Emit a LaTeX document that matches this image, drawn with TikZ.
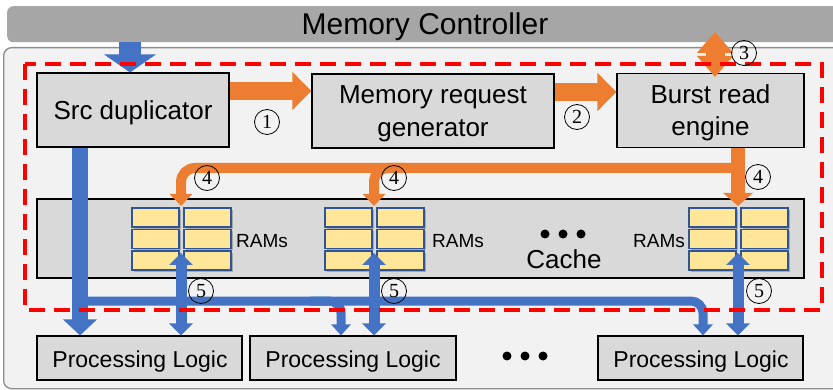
\documentclass[tikz,border=0pt]{standalone}
\usepackage{fontspec}
\setmainfont{Liberation Sans}
\newfontfamily\numfont{Liberation Serif}
\usetikzlibrary{arrows.meta,shadows}
\definecolor{myorange}{HTML}{ED7D31}
\definecolor{myblue}{HTML}{4472C4}
\definecolor{bargray}{HTML}{A6A6A6}
\definecolor{boxgray}{HTML}{D9D9D9}
\definecolor{outergray}{HTML}{F2F2F2}
\definecolor{outeredge}{HTML}{8C8C8C}
\definecolor{ramfill}{HTML}{FFE699}
\definecolor{ramedge}{HTML}{2F5597}
\definecolor{dashred}{HTML}{FF0000}
\begin{document}
\begin{tikzpicture}[x=1pt,y=-1pt,
  blockbox/.style={draw=black, line width=1.1pt, fill=boxgray, minimum width=#1,
    minimum height=74pt, inner sep=0pt},
  plbox/.style={draw=black, line width=1.1pt, fill=boxgray, minimum width=205pt,
    minimum height=44pt, inner sep=0pt},
  bigtxt/.style={inner sep=0pt, anchor=base, font=\fontsize{26}{30}\selectfont},
  pltxt/.style={inner sep=0pt, anchor=base, font=\fontsize{23}{26}\selectfont},
  ramtxt/.style={inner sep=0pt, anchor=base, font=\fontsize{19}{22}\selectfont},
  ramcell/.style={draw=ramedge, line width=1.2pt, fill=ramfill, minimum width=47pt,
    minimum height=19pt, inner sep=0pt,
    drop shadow={shadow xshift=2pt, shadow yshift=-2pt, opacity=0.35, fill=black!70}},
  numlabel/.style={circle, draw=black, line width=0.8pt, minimum size=25pt, inner sep=0pt,
    font=\numfont\fontsize{20}{20}\selectfont},
  dotmark/.style={circle, fill=black, minimum size=9pt, inner sep=0pt},
  obig/.style={draw=myorange, line width=18pt, -{Triangle[width=37pt,length=19pt]}},
  odbl/.style={draw=myorange, line width=19pt,
    {Triangle[width=35pt,length=21pt]}-{Triangle[width=35pt,length=21pt]}},
  omain/.style={draw=myorange, line width=14pt, -{Triangle[width=29pt,length=13pt]}},
  othin/.style={draw=myorange, line width=10pt, rounded corners=14pt,
    -{Triangle[width=22pt,length=12pt]}},
  btop/.style={draw=myblue, line width=22pt, -{Triangle[width=51pt,length=18pt]}},
  bsrc/.style={draw=myblue, line width=16pt, -{Triangle[width=33pt,length=16pt]}},
  bthin/.style={draw=myblue, line width=9pt, rounded corners=12pt,
    -{Triangle[width=19pt,length=11pt]}},
  bdbl/.style={draw=myblue, line width=11pt,
    {Triangle[width=23pt,length=12pt]}-{Triangle[width=23pt,length=12pt]}}
]
\useasboundingbox (0,0) rectangle (833,390);

% backgrounds
\node[fill=bargray, rounded corners=6pt, minimum width=848pt, minimum height=36pt,
  inner sep=0pt, anchor=north west] (mc) at (7,6) {};
\node[inner sep=0pt, anchor=base, font=\fontsize{30}{34}\selectfont] (mctext) at (425,35) {Memory Controller};
\node[fill=outergray, draw=outeredge, line width=1.3pt, rounded corners=8pt,
  minimum width=860pt, minimum height=341pt, inner sep=0pt, anchor=north west] (outer) at (3,47) {};

% main blocks
\node[blockbox=192pt] (src) at (133,110) {};
\node[bigtxt] (srctxt) at (133,119.5) {Src duplicator};
\node[blockbox=242pt] (mrg) at (433,111) {};
\node[bigtxt] (mrgtxt1) at (433,104) {Memory request};
\node[bigtxt] (mrgtxt2) at (433,137) {generator};
\node[blockbox=187pt] (bre) at (710.5,110.5) {};
\node[bigtxt] (bretxt1) at (710.5,104) {Burst read};
\node[bigtxt] (bretxt2) at (710.5,136) {engine};
\node[draw=black, line width=1.1pt, fill=boxgray, minimum width=767pt, minimum height=79pt,
  inner sep=0pt] (cache) at (420.5,238.5) {};
\node[bigtxt] (cachetext) at (564,269) {Cache};
\node[dotmark] (cd1) at (545,234) {};
\node[dotmark] (cd2) at (563,234) {};
\node[dotmark] (cd3) at (581,234) {};

\node[plbox] (pl1) at (139.5,358) {};
\node[pltxt] (pl1txt) at (140,367) {Processing Logic};
\node[plbox, minimum width=206pt] (pl2) at (353,358) {};
\node[pltxt] (pl2txt) at (353,367) {Processing Logic};
\node[plbox] (pl3) at (700.5,358) {};
\node[pltxt] (pl3txt) at (701,367) {Processing Logic};
\node[dotmark] (pd1) at (507,356) {};
\node[dotmark] (pd2) at (525,356) {};
\node[dotmark] (pd3) at (543,356) {};

% RAM groups
\foreach \g/\x in {1/132, 2/325, 3/689} {
  \foreach \c/\dx in {1/0, 2/52} {
    \foreach \r/\yy in {1/217.5, 2/239, 3/260.5} {
      \node[ramcell] (ram\g\c\r) at (\x+\dx+23.5, \yy) {};
    }
  }
  \coordinate (top\g) at (\x+49, 206);
  \coordinate (bot\g) at (\x+49, 253);
}
\node[ramtxt] (ramlbl1) at (262,248) {RAMs};
\node[ramtxt] (ramlbl2) at (458,248) {RAMs};
\node[ramtxt] (ramlbl3) at (659,248) {RAMs};

% helper coordinates
\coordinate (xb) at (130,0);
\coordinate (xs) at (80,0);
\coordinate (hb) at (0,301);
\coordinate (xq) at (310,0);
\coordinate (xp2) at (341,0);
\coordinate (xp3) at (703,0);
\coordinate (hy) at (0,168);
\coordinate (xo) at (405,0);
\coordinate (x3) at (715,0);
\coordinate (y3a) at (0,32);
\coordinate (y3b) at (0,77);
\coordinate (ya1) at (0,91);
\coordinate (ya2) at (0,92);

% orange arrows
\draw[obig] (src.east |- ya1) -- (mrg.west |- ya1);
\draw[obig] (mrg.east |- ya2) -- (bre.west |- ya2);
\draw[odbl] (x3 |- y3a) -- (x3 |- y3b);
\draw[othin] (top3 |- hy) -- (top1 |- hy) -- (top1);
\draw[othin] (xo |- hy) -- (top2 |- hy) -- (top2);
\draw[omain] (bre.south -| top3) -- (top3);

% blue arrows
\draw[btop] (mc.south -| xb) -- (src.north -| xb);
\draw[bthin] (xs |- hb) -- (xp3 |- hb) -- (pl3.north -| xp3);
\draw[bthin] (xq |- hb) -- (xp2 |- hb) -- (pl2.north -| xp2);
\draw[bsrc] (src.south -| xs) -- (pl1.north -| xs);
\draw[bdbl] (bot1) -- (pl1.north -| bot1);
\draw[bdbl] (bot2) -- (pl2.north -| bot2);
\draw[bdbl] (bot3) -- (pl3.north -| bot3);

% red dashed region
\draw[dashred, line width=3.5pt, dash pattern=on 16pt off 9pt] (25,64) rectangle (822,310);

% step labels
\node[numlabel] (n1) at (267,122) {1};
\node[numlabel] (n2) at (577,117) {2};
\node[numlabel] (n3) at (744,53) {3};
\node[numlabel] (n4a) at (207,178) {4};
\node[numlabel] (n4b) at (394,178) {4};
\node[numlabel] (n4c) at (758,177) {4};
\node[numlabel] (n5a) at (201,291) {5};
\node[numlabel] (n5b) at (394,291) {5};
\node[numlabel] (n5c) at (759,291) {5};
\end{tikzpicture}
\end{document}
